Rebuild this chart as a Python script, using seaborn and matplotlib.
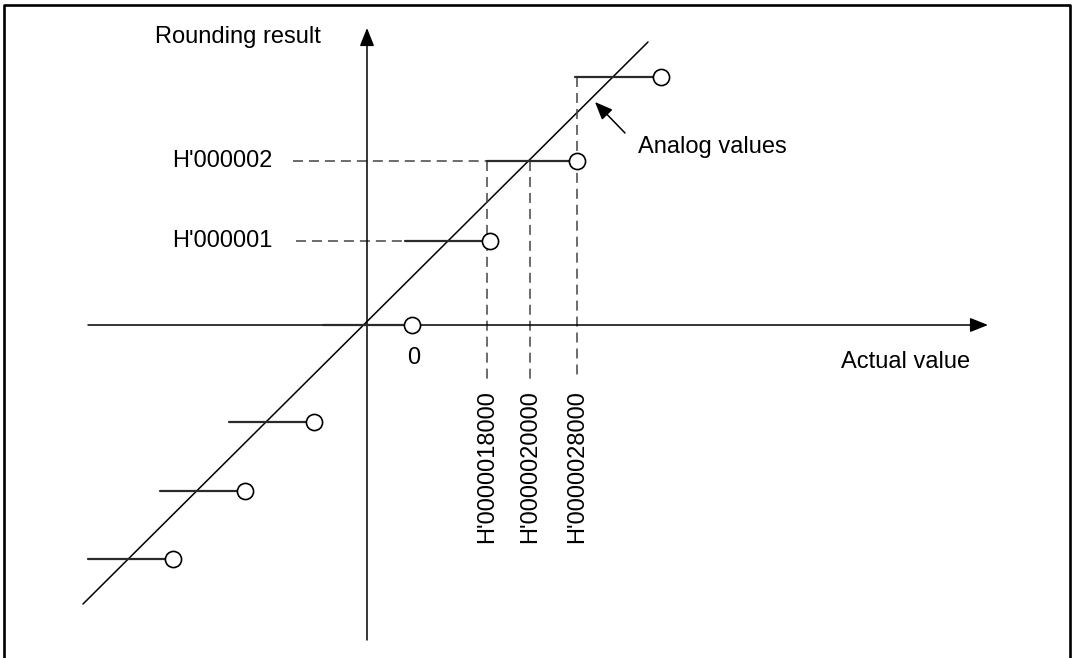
import matplotlib.pyplot as plt
import seaborn as sns

# Niveaux arrondis (ordonnees) et points d'arrondi (abscisses), origine = intersection des axes
levels = [-234, -166, -97, 0, 84, 164, 248]
circle_x = [-194, -122, -53, 45, 123, 210, 294]
step_start = [-279, -207, -138, -44, 38, 120, 208]

# Droite des valeurs analogiques
analog_x = [-284, 281]
analog_y = [-279, 283]

# Niveaux annotes a gauche
level_labels = ["H'000001", "H'000002"]
level_y = [84, 164]
guide_start = [-71, -74]
guide_end = [38, 120]

# Bornes sur l'axe des valeurs reelles
bound_x = [120, 163, 210]
bound_top = [164, 164, 248]
bound_labels = ["H'0000018000", "H'0000020000", "H'0000028000"]

sns.set_style("white")
plt.rcParams['font.family'] = ['Liberation Sans', 'DejaVu Sans']
plt.rcParams['text.color'] = 'black'
plt.rcParams['lines.scale_dashes'] = False

fig = plt.figure(figsize=(10.73, 6.58), dpi=100)
ax = fig.add_axes([0, 0, 1, 1])
ax.set_xlim(-367, 706)
ax.set_ylim(-333, 325)
ax.axis("off")

dash = (0, (7.2, 4.3))
fs = 17

# cadre
ax.plot([-363, -363, 703, 703], [-345, 320, 320, -345], color="black", lw=1.9, clip_on=False)

# axes avec fleches
arrow = dict(arrowstyle="-|>,head_length=0.55,head_width=0.22", color="black",
             lw=1.1, mutation_scale=20, shrinkA=0, shrinkB=0)
ax.annotate("", xy=(621, 0), xytext=(-279, 0), arrowprops=arrow)
ax.annotate("", xy=(0, 297), xytext=(0, -315), arrowprops=arrow)

# droite analogique
sns.lineplot(x=analog_x, y=analog_y, color="black", lw=1.1, ax=ax)

# marches
for xs, xe, y in zip(step_start, circle_x, levels):
    ax.plot([xs, xe], [y, y], color="#2a2a2a", lw=1.6, zorder=3)

# lignes de rappel horizontales
for lab, y, xs, xe in zip(level_labels, level_y, guide_start, guide_end):
    ax.plot([xs, xe], [y, y], color="#444444", lw=1.1, ls=dash)
    ax.text(-195, y, lab, fontsize=fs, ha="left", va="center")

# lignes de rappel verticales
for x, top, lab in zip(bound_x, bound_top, bound_labels):
    ax.plot([x, x], [top, -55], color="#444444", lw=1.1, ls=dash)
    ax.text(x, -65, lab, fontsize=fs, rotation=90, ha="center", va="top")

# cercles (valeurs non incluses)
sns.scatterplot(x=circle_x, y=levels, s=135, facecolor="white", edgecolor="black",
                linewidth=1.2, zorder=5, ax=ax)

ax.text(-129, 288, "Rounding result", fontsize=fs, ha="center", va="center")
ax.text(47, -33, "0", fontsize=fs, ha="center", va="center")
ax.text(539, -37, "Actual value", fontsize=fs, ha="center", va="center")
ax.text(271, 178, "Analog values", fontsize=fs, ha="left", va="center")
ax.annotate("", xy=(228, 223), xytext=(258, 192),
            arrowprops=dict(arrowstyle="-|>,head_length=0.6,head_width=0.25", color="black",
                            lw=1.1, mutation_scale=18, shrinkA=0, shrinkB=0))

fig.savefig("out.png", dpi=100)
